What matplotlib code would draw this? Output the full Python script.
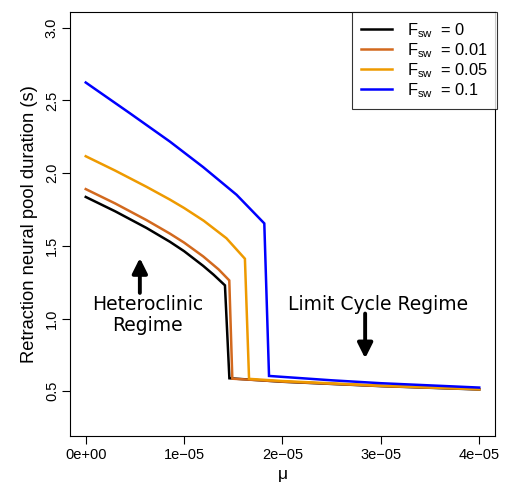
import matplotlib
matplotlib.use("Agg")
import matplotlib.pyplot as plt

plt.rcParams['font.family'] = ['Liberation Sans', 'DejaVu Sans']
plt.rcParams['mathtext.fontset'] = 'custom'
plt.rcParams['mathtext.rm'] = 'Liberation Sans'
plt.rcParams['mathtext.it'] = 'Liberation Sans'

# Data (mu, duration in s)
mu_f0 = [0, 0.3e-5, 0.617e-5, 0.855e-5, 1.0e-5, 1.194e-5, 1.3e-5, 1.415e-5,
         1.46e-5, 2.0e-5, 3.0e-5, 4.0e-5]
dur_f0 = [1.836, 1.737, 1.623, 1.528, 1.463, 1.362, 1.301, 1.228,
          0.589, 0.565, 0.535, 0.512]

mu_f001 = [0, 0.3e-5, 0.617e-5, 0.855e-5, 1.0e-5, 1.194e-5, 1.35e-5, 1.459e-5,
           1.49e-5, 2.0e-5, 3.0e-5, 4.0e-5]
dur_f001 = [1.89, 1.791, 1.677, 1.584, 1.522, 1.427, 1.338, 1.262,
            0.586, 0.566, 0.536, 0.513]

mu_f005 = [0, 0.3e-5, 0.617e-5, 0.855e-5, 1.0e-5, 1.2e-5, 1.43e-5, 1.618e-5,
           1.66e-5, 2.0e-5, 3.0e-5, 4.0e-5]
dur_f005 = [2.116, 2.017, 1.906, 1.818, 1.760, 1.672, 1.552, 1.411,
            0.585, 0.570, 0.538, 0.514]

mu_f01 = [0, 0.448e-5, 0.855e-5, 1.194e-5, 1.533e-5, 1.815e-5,
          1.863e-5, 2.5e-5, 3.0e-5, 4.0e-5]
dur_f01 = [2.623, 2.412, 2.217, 2.041, 1.851, 1.654,
           0.605, 0.575, 0.555, 0.525]

series = [
    (mu_f0, dur_f0, '#000000', r'F$_{\mathrm{sw}}$  = 0'),
    (mu_f001, dur_f001, '#D2691E', r'F$_{\mathrm{sw}}$  = 0.01'),
    (mu_f005, dur_f005, '#EE9A00', r'F$_{\mathrm{sw}}$  = 0.05'),
    (mu_f01, dur_f01, '#0000FF', r'F$_{\mathrm{sw}}$  = 0.1'),
]

xticks = [0, 1e-5, 2e-5, 3e-5, 4e-5]
xticklabels = ['0e+00', '1e\u221205', '2e\u221205', '3e\u221205', '4e\u221205']
yticks = [0.5, 1.0, 1.5, 2.0, 2.5, 3.0]
yticklabels = ['0.5', '1.0', '1.5', '2.0', '2.5', '3.0']

fig = plt.figure(figsize=(5.08, 4.86), dpi=100)
ax = fig.add_axes([0.1378, 0.1029, 0.8366, 0.8724])

for x, y, c, lab in series:
    ax.plot(x, y, color=c, lw=1.8, label=lab, solid_joinstyle='miter')

ax.set_xlim(-0.16e-5, 4.16e-5)
ax.set_ylim(0.192, 3.108)
ax.set_xticks(xticks)
ax.set_xticklabels(xticklabels, fontsize=10.5)
ax.set_yticks(yticks)
ax.set_yticklabels(yticklabels, fontsize=10.5, rotation=90, va='center')
ax.tick_params(direction='out', length=6, width=0.8, pad=3)
ax.tick_params(axis='y', pad=2)
ax.set_xlabel('\u03bc', fontsize=12.5, labelpad=3)
ax.set_ylabel('Retraction neural pool duration (s)', fontsize=13.2, labelpad=5)

leg = ax.legend(loc='upper right', fontsize=11.8, frameon=True, fancybox=False,
                edgecolor='black', borderaxespad=0.0, handlelength=1.9,
                handletextpad=0.9, labelspacing=0.08, borderpad=0.55,
                bbox_to_anchor=(1.005, 1.0))
leg.get_frame().set_linewidth(0.8)

ax.text(0.631e-5, 1.057, 'Heteroclinic', ha='center', va='baseline',
        fontsize=13.5, family='DejaVu Sans')
ax.text(0.631e-5, 0.911, 'Regime', ha='center', va='baseline',
        fontsize=13.5, family='DejaVu Sans')
ax.text(2.972e-5, 1.057, 'Limit Cycle Regime', ha='center', va='baseline',
        fontsize=13.5, family='DejaVu Sans')
arrow_kw = dict(arrowstyle='-|>,head_length=0.5,head_width=0.25', color='black',
                lw=2.8, mutation_scale=18, shrinkA=0, shrinkB=0)
ax.annotate('', xy=(0.55e-5, 1.416), xytext=(0.55e-5, 1.176), arrowprops=arrow_kw)
ax.annotate('', xy=(2.84e-5, 0.726), xytext=(2.84e-5, 1.034), arrowprops=arrow_kw)

fig.savefig('out.png', dpi=100)
